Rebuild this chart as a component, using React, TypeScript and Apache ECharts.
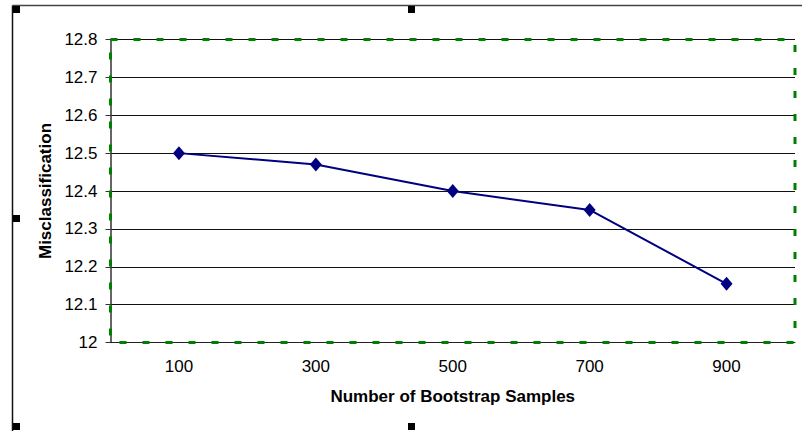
import React, { useEffect, useRef } from "react";
import * as echarts from "echarts";

const categories = ["100", "300", "500", "700", "900"];
const misclassification = [12.5, 12.47, 12.4, 12.35, 12.155];
const yMin = 12;
const yMax = 12.8;
const yStep = 0.1;

const GRID = { left: 110.5, top: 39.5, right: 7, bottom: 88.5 };
const W = 802;
const H = 431;

export default function App() {
  const ref = useRef<HTMLDivElement>(null);
  useEffect(() => {
    document.body.style.margin = "0";
    const chart = echarts.init(ref.current!, null, { renderer: "svg" });
    const handle = (x: number, y: number) => ({
      type: "rect",
      shape: { x, y, width: 7, height: 7 },
      style: { fill: "#000" },
      z: 200,
    });
    chart.setOption({
      animation: false,
      backgroundColor: "#fff",
      grid: { ...GRID, containLabel: false },
      xAxis: {
        type: "category",
        data: categories,
        boundaryGap: true,
        name: "Number of Bootstrap Samples",
        nameLocation: "middle",
        nameGap: 45,
        nameTextStyle: { fontFamily: "Liberation Sans, Arial", fontWeight: "bold", fontSize: 17, color: "#000" },
        axisLine: { lineStyle: { color: "#222", width: 1 } },
        axisTick: { show: false },
        axisLabel: { margin: 15, fontFamily: "Liberation Sans, Arial", fontSize: 17, color: "#000" },
        splitLine: { show: false },
      },
      yAxis: {
        type: "value",
        min: yMin,
        max: yMax,
        interval: yStep,
        name: "Misclassification",
        nameLocation: "middle",
        nameGap: 57,
        nameRotate: 90,
        nameTextStyle: { fontFamily: "Liberation Sans, Arial", fontWeight: "bold", fontSize: 17, color: "#000" },
        axisLine: { show: true, lineStyle: { color: "#333", width: 1.5 } },
        axisTick: { show: true, length: 5, inside: false, lineStyle: { color: "#333" } },
        axisLabel: {
          margin: 13,
          fontFamily: "Liberation Sans, Arial",
          fontSize: 17,
          color: "#000",
          formatter: (v: number) => String(Math.round(v * 10) / 10),
        },
        splitLine: { show: true, lineStyle: { color: "#111", width: 1 } },
      },
      series: [
        {
          type: "line",
          data: misclassification,
          symbol: "diamond",
          symbolSize: [12, 14],
          lineStyle: { color: "#000080", width: 2 },
          itemStyle: { color: "#000080" },
          z: 150,
        },
      ],
      graphic: [
        {
          type: "rect",
          shape: {
            x: GRID.left,
            y: GRID.top,
            width: W - GRID.left - GRID.right,
            height: H - GRID.top - GRID.bottom,
          },
          style: { fill: "none", stroke: "#008000", lineWidth: 3, lineDash: [7, 16] },
          z: 100,
        },
        {
          type: "line",
          shape: { x1: 12.5, y1: 5.5, x2: W, y2: 5.5 },
          style: { stroke: "#444", lineWidth: 1.5 },
          z: 200,
        },
        {
          type: "line",
          shape: { x1: 12.5, y1: 5.5, x2: 12.5, y2: H },
          style: { stroke: "#111", lineWidth: 1.5 },
          z: 200,
        },
        handle(13, 6),
        handle(408, 6),
        handle(13, 215),
        handle(13, 423),
        handle(408, 423),
      ],
    });
    return () => chart.dispose();
  }, []);
  return <div ref={ref} style={{ width: W, height: H }} />;
}
